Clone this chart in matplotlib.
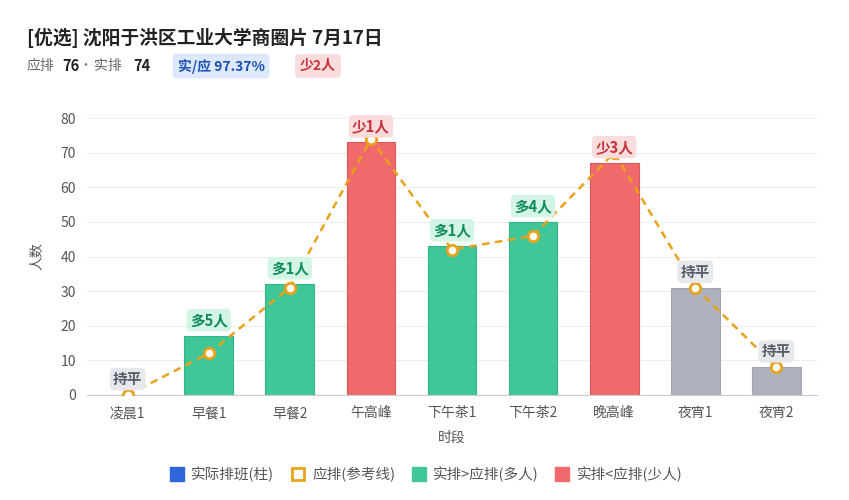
import matplotlib.pyplot as plt
from matplotlib.lines import Line2D

plt.rcParams['font.family'] = ['Noto Sans CJK SC', 'DejaVu Sans']

# 数据
periods = ["凌晨1", "早餐1", "早餐2", "午高峰", "下午茶1", "下午茶2", "晚高峰", "夜宵1", "夜宵2"]
actual = [0, 17, 32, 73, 43, 50, 67, 31, 8]
planned = [0, 12, 31, 74, 42, 46, 70, 31, 8]

GREEN, GREEN_EDGE = "#3FC798", "#34B587"
RED, RED_EDGE = "#F06A6C", "#E0575A"
GRAY, GRAY_EDGE = "#ADB2BD", "#A0A6B2"
ORANGE = "#E9A21B"
BLUE = "#2F66D9"


def style_for(diff):
    if diff > 0:
        return GREEN, GREEN_EDGE, "多%d人" % diff, "#0E8A5E", "#D3F5E6"
    if diff < 0:
        return RED, RED_EDGE, "少%d人" % -diff, "#C8303A", "#FBDCDC"
    return GRAY, GRAY_EDGE, "持平", "#555B68", "#E6E8EC"


fig = plt.figure(figsize=(8.49, 5.0), dpi=100)
W, H = 849, 500
ax = fig.add_axes([87 / W, 1 - 395 / H, (817 - 87) / W, (395 - 118) / H])

x = list(range(len(periods)))
for i, (a, p) in enumerate(zip(actual, planned)):
    face, edge, lab, tcol, bg = style_for(a - p)
    ax.bar(i, a, width=0.6, color=face, edgecolor=edge, linewidth=0.8, zorder=2)
    ax.text(i, a + 4.6, lab, ha="center", va="center", fontsize=10.5,
            fontweight="bold", color=tcol, zorder=5,
            bbox=dict(boxstyle="round,pad=0.22,rounding_size=0.3", fc=bg, ec="none"))

ax.plot(x, planned, color=ORANGE, linestyle=(0, (3, 2.2)), linewidth=1.8, zorder=3)
ax.plot(x, planned, linestyle="none", marker="o", markersize=7.5, markerfacecolor="white",
        markeredgecolor=ORANGE, markeredgewidth=2, zorder=4)

ax.set_ylim(0, 80)
ax.set_xlim(-0.5, len(periods) - 0.5)
ax.set_yticks(range(0, 81, 10))
ax.set_xticks(x)
ax.set_xticklabels(periods)
ax.tick_params(axis="both", labelsize=10, colors="#555555", length=0, pad=8)
ax.grid(axis="y", color="#EEEEEE", linewidth=0.8, zorder=0)
ax.set_axisbelow(True)
for s in ["top", "right", "left"]:
    ax.spines[s].set_visible(False)
ax.spines["bottom"].set_color("#CCCCCC")
ax.set_ylabel("人数", fontsize=10, color="#555555", labelpad=12)
ax.set_xlabel("时段", fontsize=10, color="#555555", labelpad=8)

# 标题和副标题
fig.text(27 / W, 1 - 38 / H, "[优选] 沈阳于洪区工业大学商圈片 7月17日", fontsize=13.5,
         fontweight="bold", color="#222222", va="center")
sy = 1 - 66 / H
fig.text(27 / W, sy, "应排", fontsize=10, color="#666666", va="center")
fig.text(62 / W, sy, "76", fontsize=10.5, fontweight="bold", color="#222222", va="center")
fig.text(86 / W, sy, "·", fontsize=10, color="#888888", va="center", ha="center")
fig.text(94 / W, sy, "实排", fontsize=10, color="#666666", va="center")
fig.text(133 / W, sy, "74", fontsize=10.5, fontweight="bold", color="#222222", va="center")
fig.text(221 / W, sy, "实/应 97.37%", fontsize=10, fontweight="bold", color="#1F4FB5",
         ha="center", va="center",
         bbox=dict(boxstyle="round,pad=0.35,rounding_size=0.3", fc="#DCE8FB", ec="none"))
fig.text(318 / W, sy, "少2人", fontsize=10, fontweight="bold", color="#C8303A",
         ha="center", va="center",
         bbox=dict(boxstyle="round,pad=0.35,rounding_size=0.3", fc="#FBDCDC", ec="none"))

handles = [
    Line2D([], [], linestyle="none", marker="s", markersize=10, color=BLUE),
    Line2D([], [], linestyle="none", marker="s", markersize=9, markerfacecolor="white",
           markeredgecolor=ORANGE, markeredgewidth=2),
    Line2D([], [], linestyle="none", marker="s", markersize=10, color=GREEN),
    Line2D([], [], linestyle="none", marker="s", markersize=10, color=RED),
]
labels = ["实际排班(柱)", "应排(参考线)", "实排>应排(多人)", "实排<应排(少人)"]
leg = fig.legend(handles, labels, loc="center", bbox_to_anchor=(426 / W, 1 - 474 / H),
                 ncol=4, frameon=False, fontsize=10.5, handlelength=1.0, handletextpad=0.5,
                 columnspacing=1.1)
for t in leg.get_texts():
    t.set_color("#555555")

fig.savefig("out.png", dpi=100)
